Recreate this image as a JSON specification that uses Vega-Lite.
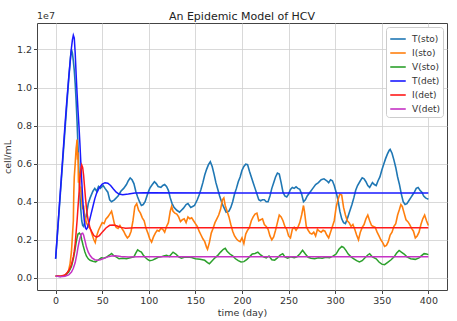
{
"$schema": "https://vega.github.io/schema/vega-lite/v6.json",
"width": 410, "height": 267,
"autosize": {"type": "none"},
"padding": {"left": 37, "top": 23, "right": 10, "bottom": 31},
"title": {"text": "An Epidemic Model of HCV", "fontSize": 11, "fontWeight": "normal", "color": "#222", "offset": 5, "dy": 16},
"config": {
 "font": "DejaVu Sans",
 "view": {"stroke": "#444", "strokeWidth": 1},
 "axis": {"domain": false, "grid": true, "gridColor": "#cfcfcf", "gridWidth": 0.8, "tickColor": "#444", "tickSize": 3.5, "labelFontSize": 9.5, "labelColor": "#333", "titleFontSize": 9.5, "titleFontWeight": "normal", "titleColor": "#333", "labelPadding": 2},
 "legend": {"orient": "top-right", "offset": 4, "fillColor": "white", "strokeColor": "#cccccc", "cornerRadius": 3, "padding": 3, "symbolType": "stroke", "symbolSize": 240, "symbolStrokeWidth": 1.6, "labelFontSize": 9, "labelColor": "#333", "rowPadding": -3, "labelOffset": 5}
},
"data": {"values": [
{"s":"T(sto)","t":0,"v":0.10},{"s":"T(sto)","t":4,"v":0.37},{"s":"T(sto)","t":8,"v":0.64},{"s":"T(sto)","t":12,"v":0.91},{"s":"T(sto)","t":14,"v":1.04},{"s":"T(sto)","t":16,"v":1.16},{"s":"T(sto)","t":17,"v":1.20},{"s":"T(sto)","t":18,"v":1.18},{"s":"T(sto)","t":19,"v":1.14},{"s":"T(sto)","t":20,"v":1.09},{"s":"T(sto)","t":21,"v":1.02},{"s":"T(sto)","t":22,"v":0.93},{"s":"T(sto)","t":23,"v":0.82},{"s":"T(sto)","t":24,"v":0.69},{"s":"T(sto)","t":25,"v":0.56},{"s":"T(sto)","t":26,"v":0.44},{"s":"T(sto)","t":27,"v":0.36},{"s":"T(sto)","t":28,"v":0.30},{"s":"T(sto)","t":29,"v":0.275},{"s":"T(sto)","t":30,"v":0.27},{"s":"T(sto)","t":31,"v":0.285},{"s":"T(sto)","t":33,"v":0.33},{"s":"T(sto)","t":35,"v":0.39},{"s":"T(sto)","t":37,"v":0.42},{"s":"T(sto)","t":40,"v":0.455},{"s":"T(sto)","t":42,"v":0.47},{"s":"T(sto)","t":44,"v":0.455},{"s":"T(sto)","t":46,"v":0.48},{"s":"T(sto)","t":48,"v":0.47},{"s":"T(sto)","t":51,"v":0.485},{"s":"T(sto)","t":53,"v":0.47},{"s":"T(sto)","t":56,"v":0.45},{"s":"T(sto)","t":58,"v":0.41},{"s":"T(sto)","t":60,"v":0.40},{"s":"T(sto)","t":63,"v":0.41},{"s":"T(sto)","t":67,"v":0.43},{"s":"T(sto)","t":70,"v":0.455},{"s":"T(sto)","t":73,"v":0.47},{"s":"T(sto)","t":76,"v":0.49},{"s":"T(sto)","t":78,"v":0.51},{"s":"T(sto)","t":80,"v":0.525},{"s":"T(sto)","t":82,"v":0.515},{"s":"T(sto)","t":84,"v":0.495},{"s":"T(sto)","t":86,"v":0.455},{"s":"T(sto)","t":88,"v":0.425},{"s":"T(sto)","t":90,"v":0.40},{"s":"T(sto)","t":92,"v":0.38},{"s":"T(sto)","t":94,"v":0.385},{"s":"T(sto)","t":96,"v":0.40},{"s":"T(sto)","t":99,"v":0.445},{"s":"T(sto)","t":101,"v":0.47},{"s":"T(sto)","t":103,"v":0.485},{"s":"T(sto)","t":106,"v":0.505},{"s":"T(sto)","t":108,"v":0.495},{"s":"T(sto)","t":110,"v":0.48},{"s":"T(sto)","t":113,"v":0.475},{"s":"T(sto)","t":115,"v":0.485},{"s":"T(sto)","t":117,"v":0.49},{"s":"T(sto)","t":119,"v":0.48},{"s":"T(sto)","t":121,"v":0.46},{"s":"T(sto)","t":123,"v":0.42},{"s":"T(sto)","t":125,"v":0.39},{"s":"T(sto)","t":127,"v":0.37},{"s":"T(sto)","t":130,"v":0.355},{"s":"T(sto)","t":133,"v":0.345},{"s":"T(sto)","t":135,"v":0.355},{"s":"T(sto)","t":137,"v":0.365},{"s":"T(sto)","t":140,"v":0.385},{"s":"T(sto)","t":142,"v":0.39},{"s":"T(sto)","t":145,"v":0.37},{"s":"T(sto)","t":147,"v":0.375},{"s":"T(sto)","t":149,"v":0.38},{"s":"T(sto)","t":152,"v":0.41},{"s":"T(sto)","t":154,"v":0.435},{"s":"T(sto)","t":156,"v":0.465},{"s":"T(sto)","t":158,"v":0.50},{"s":"T(sto)","t":160,"v":0.54},{"s":"T(sto)","t":162,"v":0.57},{"s":"T(sto)","t":164,"v":0.595},{"s":"T(sto)","t":166,"v":0.61},{"s":"T(sto)","t":168,"v":0.585},{"s":"T(sto)","t":170,"v":0.545},{"s":"T(sto)","t":172,"v":0.50},{"s":"T(sto)","t":174,"v":0.465},{"s":"T(sto)","t":176,"v":0.43},{"s":"T(sto)","t":178,"v":0.40},{"s":"T(sto)","t":180,"v":0.375},{"s":"T(sto)","t":183,"v":0.345},{"s":"T(sto)","t":186,"v":0.35},{"s":"T(sto)","t":188,"v":0.37},{"s":"T(sto)","t":190,"v":0.40},{"s":"T(sto)","t":192,"v":0.44},{"s":"T(sto)","t":194,"v":0.47},{"s":"T(sto)","t":196,"v":0.505},{"s":"T(sto)","t":198,"v":0.53},{"s":"T(sto)","t":200,"v":0.565},{"s":"T(sto)","t":202,"v":0.585},{"s":"T(sto)","t":204,"v":0.597},{"s":"T(sto)","t":206,"v":0.595},{"s":"T(sto)","t":208,"v":0.56},{"s":"T(sto)","t":210,"v":0.53},{"s":"T(sto)","t":212,"v":0.50},{"s":"T(sto)","t":214,"v":0.47},{"s":"T(sto)","t":216,"v":0.44},{"s":"T(sto)","t":218,"v":0.41},{"s":"T(sto)","t":220,"v":0.405},{"s":"T(sto)","t":222,"v":0.41},{"s":"T(sto)","t":224,"v":0.41},{"s":"T(sto)","t":226,"v":0.40},{"s":"T(sto)","t":228,"v":0.40},{"s":"T(sto)","t":230,"v":0.43},{"s":"T(sto)","t":232,"v":0.47},{"s":"T(sto)","t":234,"v":0.50},{"s":"T(sto)","t":236,"v":0.53},{"s":"T(sto)","t":238,"v":0.55},{"s":"T(sto)","t":240,"v":0.545},{"s":"T(sto)","t":242,"v":0.50},{"s":"T(sto)","t":244,"v":0.45},{"s":"T(sto)","t":246,"v":0.43},{"s":"T(sto)","t":248,"v":0.425},{"s":"T(sto)","t":250,"v":0.44},{"s":"T(sto)","t":252,"v":0.465},{"s":"T(sto)","t":254,"v":0.475},{"s":"T(sto)","t":256,"v":0.47},{"s":"T(sto)","t":258,"v":0.478},{"s":"T(sto)","t":260,"v":0.47},{"s":"T(sto)","t":262,"v":0.465},{"s":"T(sto)","t":264,"v":0.44},{"s":"T(sto)","t":266,"v":0.40},{"s":"T(sto)","t":268,"v":0.41},{"s":"T(sto)","t":270,"v":0.43},{"s":"T(sto)","t":273,"v":0.45},{"s":"T(sto)","t":276,"v":0.47},{"s":"T(sto)","t":279,"v":0.49},{"s":"T(sto)","t":282,"v":0.50},{"s":"T(sto)","t":285,"v":0.515},{"s":"T(sto)","t":288,"v":0.52},{"s":"T(sto)","t":291,"v":0.51},{"s":"T(sto)","t":293,"v":0.50},{"s":"T(sto)","t":295,"v":0.515},{"s":"T(sto)","t":297,"v":0.51},{"s":"T(sto)","t":299,"v":0.485},{"s":"T(sto)","t":301,"v":0.45},{"s":"T(sto)","t":303,"v":0.41},{"s":"T(sto)","t":305,"v":0.35},{"s":"T(sto)","t":307,"v":0.31},{"s":"T(sto)","t":309,"v":0.29},{"s":"T(sto)","t":311,"v":0.285},{"s":"T(sto)","t":313,"v":0.31},{"s":"T(sto)","t":315,"v":0.34},{"s":"T(sto)","t":318,"v":0.385},{"s":"T(sto)","t":320,"v":0.42},{"s":"T(sto)","t":322,"v":0.46},{"s":"T(sto)","t":324,"v":0.485},{"s":"T(sto)","t":327,"v":0.51},{"s":"T(sto)","t":329,"v":0.525},{"s":"T(sto)","t":331,"v":0.52},{"s":"T(sto)","t":333,"v":0.505},{"s":"T(sto)","t":335,"v":0.485},{"s":"T(sto)","t":337,"v":0.475},{"s":"T(sto)","t":340,"v":0.50},{"s":"T(sto)","t":342,"v":0.49},{"s":"T(sto)","t":344,"v":0.485},{"s":"T(sto)","t":346,"v":0.51},{"s":"T(sto)","t":348,"v":0.53},{"s":"T(sto)","t":350,"v":0.565},{"s":"T(sto)","t":352,"v":0.595},{"s":"T(sto)","t":354,"v":0.625},{"s":"T(sto)","t":356,"v":0.65},{"s":"T(sto)","t":358,"v":0.67},{"s":"T(sto)","t":359,"v":0.675},{"s":"T(sto)","t":361,"v":0.655},{"s":"T(sto)","t":363,"v":0.62},{"s":"T(sto)","t":365,"v":0.58},{"s":"T(sto)","t":367,"v":0.53},{"s":"T(sto)","t":369,"v":0.49},{"s":"T(sto)","t":371,"v":0.44},{"s":"T(sto)","t":373,"v":0.40},{"s":"T(sto)","t":375,"v":0.385},{"s":"T(sto)","t":377,"v":0.39},{"s":"T(sto)","t":379,"v":0.405},{"s":"T(sto)","t":381,"v":0.42},{"s":"T(sto)","t":383,"v":0.435},{"s":"T(sto)","t":385,"v":0.45},{"s":"T(sto)","t":387,"v":0.47},{"s":"T(sto)","t":389,"v":0.475},{"s":"T(sto)","t":391,"v":0.46},{"s":"T(sto)","t":393,"v":0.45},{"s":"T(sto)","t":395,"v":0.43},{"s":"T(sto)","t":397,"v":0.42},{"s":"T(sto)","t":399,"v":0.415},{"s":"T(sto)","t":400,"v":0.413},
{"s":"I(sto)","t":0,"v":0.01},{"s":"I(sto)","t":5,"v":0.008},{"s":"I(sto)","t":9,"v":0.012},{"s":"I(sto)","t":12,"v":0.02},{"s":"I(sto)","t":14,"v":0.04},{"s":"I(sto)","t":15.5,"v":0.075},{"s":"I(sto)","t":17,"v":0.14},{"s":"I(sto)","t":18,"v":0.22},{"s":"I(sto)","t":19,"v":0.30},{"s":"I(sto)","t":19.5,"v":0.45},{"s":"I(sto)","t":20,"v":0.53},{"s":"I(sto)","t":21,"v":0.60},{"s":"I(sto)","t":22,"v":0.68},{"s":"I(sto)","t":22.5,"v":0.70},{"s":"I(sto)","t":23,"v":0.727},{"s":"I(sto)","t":23.5,"v":0.62},{"s":"I(sto)","t":24,"v":0.66},{"s":"I(sto)","t":24.5,"v":0.50},{"s":"I(sto)","t":25,"v":0.55},{"s":"I(sto)","t":26,"v":0.45},{"s":"I(sto)","t":27,"v":0.48},{"s":"I(sto)","t":28,"v":0.40},{"s":"I(sto)","t":29,"v":0.36},{"s":"I(sto)","t":30,"v":0.38},{"s":"I(sto)","t":31,"v":0.33},{"s":"I(sto)","t":33,"v":0.29},{"s":"I(sto)","t":35,"v":0.27},{"s":"I(sto)","t":37,"v":0.26},{"s":"I(sto)","t":39,"v":0.23},{"s":"I(sto)","t":41,"v":0.20},{"s":"I(sto)","t":42.5,"v":0.185},{"s":"I(sto)","t":44,"v":0.22},{"s":"I(sto)","t":46,"v":0.25},{"s":"I(sto)","t":48,"v":0.27},{"s":"I(sto)","t":50,"v":0.29},{"s":"I(sto)","t":52,"v":0.285},{"s":"I(sto)","t":54,"v":0.31},{"s":"I(sto)","t":56,"v":0.32},{"s":"I(sto)","t":58,"v":0.335},{"s":"I(sto)","t":60,"v":0.35},{"s":"I(sto)","t":61,"v":0.33},{"s":"I(sto)","t":63,"v":0.285},{"s":"I(sto)","t":65,"v":0.265},{"s":"I(sto)","t":67,"v":0.26},{"s":"I(sto)","t":69,"v":0.275},{"s":"I(sto)","t":71,"v":0.26},{"s":"I(sto)","t":73,"v":0.245},{"s":"I(sto)","t":75,"v":0.225},{"s":"I(sto)","t":77,"v":0.21},{"s":"I(sto)","t":79,"v":0.22},{"s":"I(sto)","t":81,"v":0.245},{"s":"I(sto)","t":83,"v":0.30},{"s":"I(sto)","t":85,"v":0.375},{"s":"I(sto)","t":87,"v":0.39},{"s":"I(sto)","t":89,"v":0.355},{"s":"I(sto)","t":91,"v":0.34},{"s":"I(sto)","t":93,"v":0.315},{"s":"I(sto)","t":95,"v":0.30},{"s":"I(sto)","t":97,"v":0.26},{"s":"I(sto)","t":99,"v":0.235},{"s":"I(sto)","t":101,"v":0.205},{"s":"I(sto)","t":103,"v":0.188},{"s":"I(sto)","t":105,"v":0.215},{"s":"I(sto)","t":107,"v":0.235},{"s":"I(sto)","t":109,"v":0.25},{"s":"I(sto)","t":111,"v":0.245},{"s":"I(sto)","t":113,"v":0.26},{"s":"I(sto)","t":115,"v":0.255},{"s":"I(sto)","t":117,"v":0.24},{"s":"I(sto)","t":119,"v":0.27},{"s":"I(sto)","t":121,"v":0.29},{"s":"I(sto)","t":123,"v":0.35},{"s":"I(sto)","t":124.5,"v":0.375},{"s":"I(sto)","t":126,"v":0.35},{"s":"I(sto)","t":128,"v":0.34},{"s":"I(sto)","t":130,"v":0.335},{"s":"I(sto)","t":132,"v":0.32},{"s":"I(sto)","t":134,"v":0.295},{"s":"I(sto)","t":136,"v":0.305},{"s":"I(sto)","t":138,"v":0.31},{"s":"I(sto)","t":140,"v":0.29},{"s":"I(sto)","t":142,"v":0.32},{"s":"I(sto)","t":144,"v":0.31},{"s":"I(sto)","t":146,"v":0.315},{"s":"I(sto)","t":148,"v":0.30},{"s":"I(sto)","t":150,"v":0.285},{"s":"I(sto)","t":152,"v":0.27},{"s":"I(sto)","t":154,"v":0.245},{"s":"I(sto)","t":156,"v":0.225},{"s":"I(sto)","t":158,"v":0.205},{"s":"I(sto)","t":160,"v":0.19},{"s":"I(sto)","t":162,"v":0.16},{"s":"I(sto)","t":163,"v":0.15},{"s":"I(sto)","t":165,"v":0.185},{"s":"I(sto)","t":167,"v":0.235},{"s":"I(sto)","t":169,"v":0.26},{"s":"I(sto)","t":171,"v":0.29},{"s":"I(sto)","t":173,"v":0.31},{"s":"I(sto)","t":175,"v":0.33},{"s":"I(sto)","t":177,"v":0.36},{"s":"I(sto)","t":179,"v":0.41},{"s":"I(sto)","t":180.5,"v":0.42},{"s":"I(sto)","t":182,"v":0.38},{"s":"I(sto)","t":184,"v":0.35},{"s":"I(sto)","t":186,"v":0.32},{"s":"I(sto)","t":188,"v":0.28},{"s":"I(sto)","t":190,"v":0.245},{"s":"I(sto)","t":192,"v":0.22},{"s":"I(sto)","t":194,"v":0.205},{"s":"I(sto)","t":196,"v":0.195},{"s":"I(sto)","t":198,"v":0.19},{"s":"I(sto)","t":200,"v":0.21},{"s":"I(sto)","t":202,"v":0.18},{"s":"I(sto)","t":204,"v":0.23},{"s":"I(sto)","t":206,"v":0.25},{"s":"I(sto)","t":208,"v":0.265},{"s":"I(sto)","t":210,"v":0.30},{"s":"I(sto)","t":212,"v":0.32},{"s":"I(sto)","t":214,"v":0.335},{"s":"I(sto)","t":216,"v":0.34},{"s":"I(sto)","t":218,"v":0.30},{"s":"I(sto)","t":220,"v":0.305},{"s":"I(sto)","t":222,"v":0.31},{"s":"I(sto)","t":224,"v":0.28},{"s":"I(sto)","t":226,"v":0.27},{"s":"I(sto)","t":228,"v":0.255},{"s":"I(sto)","t":230,"v":0.22},{"s":"I(sto)","t":232,"v":0.20},{"s":"I(sto)","t":234,"v":0.215},{"s":"I(sto)","t":236,"v":0.25},{"s":"I(sto)","t":238,"v":0.29},{"s":"I(sto)","t":240,"v":0.33},{"s":"I(sto)","t":242,"v":0.32},{"s":"I(sto)","t":244,"v":0.30},{"s":"I(sto)","t":246,"v":0.27},{"s":"I(sto)","t":248,"v":0.255},{"s":"I(sto)","t":250,"v":0.22},{"s":"I(sto)","t":252,"v":0.21},{"s":"I(sto)","t":254,"v":0.255},{"s":"I(sto)","t":256,"v":0.265},{"s":"I(sto)","t":258,"v":0.25},{"s":"I(sto)","t":260,"v":0.265},{"s":"I(sto)","t":262,"v":0.29},{"s":"I(sto)","t":264,"v":0.33},{"s":"I(sto)","t":266,"v":0.38},{"s":"I(sto)","t":267,"v":0.35},{"s":"I(sto)","t":269,"v":0.27},{"s":"I(sto)","t":271,"v":0.25},{"s":"I(sto)","t":273,"v":0.235},{"s":"I(sto)","t":275,"v":0.23},{"s":"I(sto)","t":277,"v":0.24},{"s":"I(sto)","t":279,"v":0.22},{"s":"I(sto)","t":281,"v":0.255},{"s":"I(sto)","t":283,"v":0.245},{"s":"I(sto)","t":285,"v":0.24},{"s":"I(sto)","t":287,"v":0.25},{"s":"I(sto)","t":289,"v":0.245},{"s":"I(sto)","t":291,"v":0.225},{"s":"I(sto)","t":293,"v":0.21},{"s":"I(sto)","t":295,"v":0.24},{"s":"I(sto)","t":297,"v":0.27},{"s":"I(sto)","t":299,"v":0.30},{"s":"I(sto)","t":301,"v":0.37},{"s":"I(sto)","t":303,"v":0.41},{"s":"I(sto)","t":305,"v":0.44},{"s":"I(sto)","t":307,"v":0.435},{"s":"I(sto)","t":309,"v":0.37},{"s":"I(sto)","t":311,"v":0.33},{"s":"I(sto)","t":313,"v":0.30},{"s":"I(sto)","t":315,"v":0.29},{"s":"I(sto)","t":317,"v":0.27},{"s":"I(sto)","t":319,"v":0.28},{"s":"I(sto)","t":321,"v":0.255},{"s":"I(sto)","t":323,"v":0.225},{"s":"I(sto)","t":325,"v":0.20},{"s":"I(sto)","t":327,"v":0.24},{"s":"I(sto)","t":329,"v":0.265},{"s":"I(sto)","t":331,"v":0.28},{"s":"I(sto)","t":333,"v":0.31},{"s":"I(sto)","t":335,"v":0.33},{"s":"I(sto)","t":337,"v":0.30},{"s":"I(sto)","t":339,"v":0.275},{"s":"I(sto)","t":341,"v":0.27},{"s":"I(sto)","t":343,"v":0.265},{"s":"I(sto)","t":345,"v":0.24},{"s":"I(sto)","t":347,"v":0.22},{"s":"I(sto)","t":349,"v":0.20},{"s":"I(sto)","t":351,"v":0.185},{"s":"I(sto)","t":353,"v":0.165},{"s":"I(sto)","t":355,"v":0.17},{"s":"I(sto)","t":357,"v":0.19},{"s":"I(sto)","t":359,"v":0.225},{"s":"I(sto)","t":361,"v":0.24},{"s":"I(sto)","t":363,"v":0.27},{"s":"I(sto)","t":365,"v":0.285},{"s":"I(sto)","t":367,"v":0.33},{"s":"I(sto)","t":369,"v":0.36},{"s":"I(sto)","t":370.5,"v":0.385},{"s":"I(sto)","t":372,"v":0.375},{"s":"I(sto)","t":374,"v":0.34},{"s":"I(sto)","t":376,"v":0.305},{"s":"I(sto)","t":378,"v":0.295},{"s":"I(sto)","t":380,"v":0.28},{"s":"I(sto)","t":382,"v":0.26},{"s":"I(sto)","t":384,"v":0.245},{"s":"I(sto)","t":386,"v":0.21},{"s":"I(sto)","t":388,"v":0.22},{"s":"I(sto)","t":390,"v":0.24},{"s":"I(sto)","t":392,"v":0.28},{"s":"I(sto)","t":394,"v":0.31},{"s":"I(sto)","t":396,"v":0.33},{"s":"I(sto)","t":398,"v":0.30},{"s":"I(sto)","t":400,"v":0.275},
{"s":"V(sto)","t":0,"v":0.01},{"s":"V(sto)","t":5,"v":0.007},{"s":"V(sto)","t":10,"v":0.012},{"s":"V(sto)","t":14,"v":0.03},{"s":"V(sto)","t":17,"v":0.06},{"s":"V(sto)","t":19,"v":0.10},{"s":"V(sto)","t":20.7,"v":0.144},{"s":"V(sto)","t":22,"v":0.185},{"s":"V(sto)","t":23,"v":0.21},{"s":"V(sto)","t":24,"v":0.23},{"s":"V(sto)","t":25.5,"v":0.235},{"s":"V(sto)","t":27,"v":0.225},{"s":"V(sto)","t":28,"v":0.20},{"s":"V(sto)","t":29.5,"v":0.17},{"s":"V(sto)","t":31.4,"v":0.136},{"s":"V(sto)","t":33,"v":0.115},{"s":"V(sto)","t":35,"v":0.10},{"s":"V(sto)","t":37,"v":0.092},{"s":"V(sto)","t":40,"v":0.087},{"s":"V(sto)","t":43,"v":0.084},{"s":"V(sto)","t":46,"v":0.095},{"s":"V(sto)","t":49,"v":0.105},{"s":"V(sto)","t":52,"v":0.103},{"s":"V(sto)","t":55,"v":0.11},{"s":"V(sto)","t":58,"v":0.12},{"s":"V(sto)","t":60,"v":0.128},{"s":"V(sto)","t":62,"v":0.118},{"s":"V(sto)","t":65,"v":0.11},{"s":"V(sto)","t":68,"v":0.10},{"s":"V(sto)","t":72,"v":0.103},{"s":"V(sto)","t":76,"v":0.10},{"s":"V(sto)","t":80,"v":0.105},{"s":"V(sto)","t":84,"v":0.11},{"s":"V(sto)","t":86,"v":0.13},{"s":"V(sto)","t":88,"v":0.147},{"s":"V(sto)","t":90,"v":0.14},{"s":"V(sto)","t":92,"v":0.135},{"s":"V(sto)","t":94,"v":0.12},{"s":"V(sto)","t":96,"v":0.108},{"s":"V(sto)","t":99,"v":0.095},{"s":"V(sto)","t":101,"v":0.09},{"s":"V(sto)","t":104,"v":0.093},{"s":"V(sto)","t":107,"v":0.10},{"s":"V(sto)","t":110,"v":0.108},{"s":"V(sto)","t":113,"v":0.11},{"s":"V(sto)","t":116,"v":0.115},{"s":"V(sto)","t":119,"v":0.118},{"s":"V(sto)","t":122,"v":0.112},{"s":"V(sto)","t":126,"v":0.135},{"s":"V(sto)","t":129,"v":0.125},{"s":"V(sto)","t":132,"v":0.11},{"s":"V(sto)","t":135,"v":0.103},{"s":"V(sto)","t":138,"v":0.108},{"s":"V(sto)","t":142,"v":0.11},{"s":"V(sto)","t":146,"v":0.107},{"s":"V(sto)","t":150,"v":0.10},{"s":"V(sto)","t":155,"v":0.098},{"s":"V(sto)","t":160,"v":0.092},{"s":"V(sto)","t":163,"v":0.08},{"s":"V(sto)","t":165,"v":0.074},{"s":"V(sto)","t":168,"v":0.09},{"s":"V(sto)","t":171,"v":0.105},{"s":"V(sto)","t":174,"v":0.118},{"s":"V(sto)","t":177,"v":0.135},{"s":"V(sto)","t":180,"v":0.15},{"s":"V(sto)","t":182,"v":0.155},{"s":"V(sto)","t":184,"v":0.14},{"s":"V(sto)","t":187,"v":0.125},{"s":"V(sto)","t":190,"v":0.115},{"s":"V(sto)","t":193,"v":0.10},{"s":"V(sto)","t":196,"v":0.09},{"s":"V(sto)","t":199,"v":0.083},{"s":"V(sto)","t":202,"v":0.085},{"s":"V(sto)","t":205,"v":0.095},{"s":"V(sto)","t":208,"v":0.11},{"s":"V(sto)","t":211,"v":0.125},{"s":"V(sto)","t":214,"v":0.128},{"s":"V(sto)","t":217,"v":0.135},{"s":"V(sto)","t":220,"v":0.12},{"s":"V(sto)","t":223,"v":0.11},{"s":"V(sto)","t":226,"v":0.105},{"s":"V(sto)","t":229,"v":0.115},{"s":"V(sto)","t":232,"v":0.095},{"s":"V(sto)","t":235,"v":0.093},{"s":"V(sto)","t":238,"v":0.105},{"s":"V(sto)","t":241,"v":0.12},{"s":"V(sto)","t":243.7,"v":0.127},{"s":"V(sto)","t":246,"v":0.11},{"s":"V(sto)","t":249,"v":0.103},{"s":"V(sto)","t":252,"v":0.11},{"s":"V(sto)","t":256,"v":0.105},{"s":"V(sto)","t":259,"v":0.11},{"s":"V(sto)","t":262,"v":0.125},{"s":"V(sto)","t":265,"v":0.145},{"s":"V(sto)","t":268,"v":0.125},{"s":"V(sto)","t":271,"v":0.108},{"s":"V(sto)","t":274,"v":0.103},{"s":"V(sto)","t":278,"v":0.10},{"s":"V(sto)","t":282,"v":0.105},{"s":"V(sto)","t":286,"v":0.103},{"s":"V(sto)","t":290,"v":0.108},{"s":"V(sto)","t":294,"v":0.105},{"s":"V(sto)","t":298,"v":0.115},{"s":"V(sto)","t":301,"v":0.125},{"s":"V(sto)","t":304,"v":0.15},{"s":"V(sto)","t":307,"v":0.165},{"s":"V(sto)","t":309,"v":0.16},{"s":"V(sto)","t":311.5,"v":0.144},{"s":"V(sto)","t":314,"v":0.125},{"s":"V(sto)","t":317,"v":0.11},{"s":"V(sto)","t":320,"v":0.10},{"s":"V(sto)","t":323,"v":0.09},{"s":"V(sto)","t":326,"v":0.083},{"s":"V(sto)","t":329,"v":0.09},{"s":"V(sto)","t":332,"v":0.105},{"s":"V(sto)","t":335,"v":0.12},{"s":"V(sto)","t":337,"v":0.127},{"s":"V(sto)","t":340,"v":0.11},{"s":"V(sto)","t":344,"v":0.10},{"s":"V(sto)","t":347,"v":0.083},{"s":"V(sto)","t":350,"v":0.072},{"s":"V(sto)","t":353,"v":0.069},{"s":"V(sto)","t":356,"v":0.08},{"s":"V(sto)","t":360,"v":0.095},{"s":"V(sto)","t":363,"v":0.109},{"s":"V(sto)","t":366,"v":0.13},{"s":"V(sto)","t":368.6,"v":0.144},{"s":"V(sto)","t":371,"v":0.135},{"s":"V(sto)","t":374,"v":0.125},{"s":"V(sto)","t":377,"v":0.11},{"s":"V(sto)","t":381,"v":0.10},{"s":"V(sto)","t":386,"v":0.097},{"s":"V(sto)","t":390,"v":0.105},{"s":"V(sto)","t":393,"v":0.118},{"s":"V(sto)","t":395.4,"v":0.127},{"s":"V(sto)","t":398,"v":0.125},{"s":"V(sto)","t":400,"v":0.122},
{"s":"T(det)","t":0,"v":0.10},{"s":"T(det)","t":2,"v":0.24},{"s":"T(det)","t":4,"v":0.38},{"s":"T(det)","t":6,"v":0.52},{"s":"T(det)","t":8,"v":0.66},{"s":"T(det)","t":10,"v":0.80},{"s":"T(det)","t":12,"v":0.93},{"s":"T(det)","t":14,"v":1.05},{"s":"T(det)","t":16,"v":1.16},{"s":"T(det)","t":17,"v":1.21},{"s":"T(det)","t":18,"v":1.25},{"s":"T(det)","t":19,"v":1.275},{"s":"T(det)","t":20,"v":1.26},{"s":"T(det)","t":21,"v":1.18},{"s":"T(det)","t":22,"v":1.07},{"s":"T(det)","t":23,"v":0.97},{"s":"T(det)","t":24,"v":0.88},{"s":"T(det)","t":25,"v":0.80},{"s":"T(det)","t":26,"v":0.71},{"s":"T(det)","t":27,"v":0.61},{"s":"T(det)","t":28,"v":0.51},{"s":"T(det)","t":29,"v":0.42},{"s":"T(det)","t":30,"v":0.34},{"s":"T(det)","t":31,"v":0.29},{"s":"T(det)","t":32,"v":0.262},{"s":"T(det)","t":33,"v":0.255},{"s":"T(det)","t":34,"v":0.262},{"s":"T(det)","t":36,"v":0.295},{"s":"T(det)","t":38,"v":0.335},{"s":"T(det)","t":40,"v":0.375},{"s":"T(det)","t":42,"v":0.415},{"s":"T(det)","t":44,"v":0.445},{"s":"T(det)","t":47,"v":0.475},{"s":"T(det)","t":50,"v":0.492},{"s":"T(det)","t":53,"v":0.50},{"s":"T(det)","t":56,"v":0.497},{"s":"T(det)","t":59,"v":0.485},{"s":"T(det)","t":62,"v":0.467},{"s":"T(det)","t":65,"v":0.45},{"s":"T(det)","t":68,"v":0.44},{"s":"T(det)","t":72,"v":0.436},{"s":"T(det)","t":78,"v":0.44},{"s":"T(det)","t":85,"v":0.446},{"s":"T(det)","t":95,"v":0.447},{"s":"T(det)","t":200,"v":0.446},{"s":"T(det)","t":400,"v":0.446},
{"s":"I(det)","t":0,"v":0.01},{"s":"I(det)","t":5,"v":0.008},{"s":"I(det)","t":10,"v":0.015},{"s":"I(det)","t":13,"v":0.03},{"s":"I(det)","t":15,"v":0.045},{"s":"I(det)","t":17,"v":0.07},{"s":"I(det)","t":19,"v":0.11},{"s":"I(det)","t":20,"v":0.14},{"s":"I(det)","t":21,"v":0.18},{"s":"I(det)","t":22,"v":0.24},{"s":"I(det)","t":23,"v":0.30},{"s":"I(det)","t":24,"v":0.37},{"s":"I(det)","t":25,"v":0.44},{"s":"I(det)","t":26,"v":0.51},{"s":"I(det)","t":27,"v":0.57},{"s":"I(det)","t":28,"v":0.593},{"s":"I(det)","t":29,"v":0.58},{"s":"I(det)","t":30,"v":0.54},{"s":"I(det)","t":31,"v":0.48},{"s":"I(det)","t":32,"v":0.42},{"s":"I(det)","t":33,"v":0.37},{"s":"I(det)","t":34,"v":0.33},{"s":"I(det)","t":35,"v":0.30},{"s":"I(det)","t":37,"v":0.26},{"s":"I(det)","t":39,"v":0.24},{"s":"I(det)","t":41,"v":0.222},{"s":"I(det)","t":44,"v":0.214},{"s":"I(det)","t":47,"v":0.222},{"s":"I(det)","t":50,"v":0.24},{"s":"I(det)","t":54,"v":0.262},{"s":"I(det)","t":58,"v":0.276},{"s":"I(det)","t":62,"v":0.278},{"s":"I(det)","t":66,"v":0.272},{"s":"I(det)","t":70,"v":0.265},{"s":"I(det)","t":75,"v":0.261},{"s":"I(det)","t":85,"v":0.263},{"s":"I(det)","t":200,"v":0.263},{"s":"I(det)","t":400,"v":0.263},
{"s":"V(det)","t":0,"v":0.01},{"s":"V(det)","t":5,"v":0.006},{"s":"V(det)","t":10,"v":0.008},{"s":"V(det)","t":14,"v":0.015},{"s":"V(det)","t":17,"v":0.03},{"s":"V(det)","t":19,"v":0.05},{"s":"V(det)","t":21,"v":0.08},{"s":"V(det)","t":22,"v":0.105},{"s":"V(det)","t":23,"v":0.13},{"s":"V(det)","t":24,"v":0.16},{"s":"V(det)","t":25,"v":0.185},{"s":"V(det)","t":26,"v":0.205},{"s":"V(det)","t":27,"v":0.222},{"s":"V(det)","t":28,"v":0.233},{"s":"V(det)","t":29,"v":0.235},{"s":"V(det)","t":30,"v":0.225},{"s":"V(det)","t":31,"v":0.205},{"s":"V(det)","t":32,"v":0.185},{"s":"V(det)","t":33,"v":0.163},{"s":"V(det)","t":35,"v":0.135},{"s":"V(det)","t":37,"v":0.117},{"s":"V(det)","t":39,"v":0.105},{"s":"V(det)","t":42,"v":0.095},{"s":"V(det)","t":45,"v":0.092},{"s":"V(det)","t":48,"v":0.095},{"s":"V(det)","t":52,"v":0.102},{"s":"V(det)","t":56,"v":0.11},{"s":"V(det)","t":60,"v":0.115},{"s":"V(det)","t":64,"v":0.116},{"s":"V(det)","t":70,"v":0.112},{"s":"V(det)","t":78,"v":0.11},{"s":"V(det)","t":90,"v":0.111},{"s":"V(det)","t":200,"v":0.111},{"s":"V(det)","t":400,"v":0.111}
]},
"encoding": {
 "x": {"field": "t", "type": "quantitative", "scale": {"domain": [-20, 420], "nice": false, "zero": false}, "axis": {"title": "time (day)", "values": [0,50,100,150,200,250,300,350,400], "titlePadding": 2}},
 "y": {"field": "v", "type": "quantitative", "scale": {"domain": [-0.064, 1.339], "nice": false, "zero": false}, "axis": {"title": "cell/mL", "values": [0,0.2,0.4,0.6,0.8,1.0,1.2], "format": ".1f", "titlePadding": 4}},
 "color": {"field": "s", "type": "nominal", "title": null, "scale": {"domain": ["T(sto)","I(sto)","V(sto)","T(det)","I(det)","V(det)"], "range": ["#1f77b4","#ff7f0e","#2ca02c","#1a1aff","#ff1a1a","#c533c5"]}}
},
"layer": [
 {"transform": [{"filter": "datum.s == 'T(sto)'"}], "mark": {"type": "line", "strokeWidth": 1.6}},
 {"transform": [{"filter": "datum.s == 'I(sto)'"}], "mark": {"type": "line", "strokeWidth": 1.6}},
 {"transform": [{"filter": "datum.s == 'V(sto)'"}], "mark": {"type": "line", "strokeWidth": 1.5}},
 {"transform": [{"filter": "datum.s == 'T(det)'"}], "mark": {"type": "line", "strokeWidth": 1.5}},
 {"transform": [{"filter": "datum.s == 'I(det)'"}], "mark": {"type": "line", "strokeWidth": 1.5}},
 {"transform": [{"filter": "datum.s == 'V(det)'"}], "mark": {"type": "line", "strokeWidth": 1.5}},
 {"transform": [{"filter": "datum.s == 'T(det)' && datum.t == 0"}], "mark": {"type": "text", "text": "1e7", "align": "left", "baseline": "bottom", "dy": -2, "fontSize": 9.5, "color": "#333"}, "encoding": {"x": {"datum": -20}, "y": {"datum": 1.339}, "color": {"value": "#333"}}}
]
}
